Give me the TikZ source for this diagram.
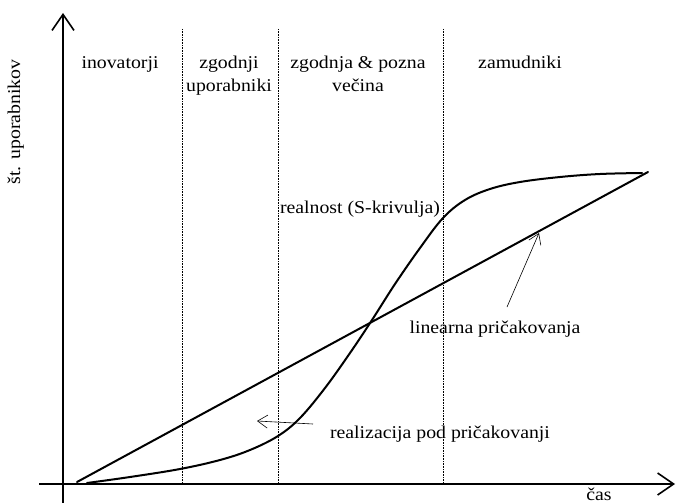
\documentclass[tikz,border=0pt]{standalone}
\usepackage{fontspec}
\setmainfont{Liberation Serif}[FakeStretch=1.1]
\usetikzlibrary{arrows.meta}
\begin{document}
\begin{tikzpicture}[x=1pt,y=-1pt,
  axis/.style={line width=1.6pt,-{Straight Barb[length=16pt,width=22pt,line width=1.6pt]}},
  curve/.style={line width=2pt,line cap=round},
  divider/.style={densely dotted,line width=0.6pt},
  pointer/.style={line width=0.6pt,-{Straight Barb[length=10pt,width=13pt,line width=0.6pt]}},
  lbl/.style={font=\fontsize{18}{22}\selectfont,inner sep=0pt,anchor=base,align=center}]
\useasboundingbox (0,0) rectangle (677,503);
% axes
\coordinate (xs) at (39,484);
\coordinate (xe) at (675,484);
\coordinate (ys) at (63,503);
\coordinate (ye) at (63,13);
\draw[axis] (xs) -- (xe);
\draw[axis] (ys) -- (ye);
% dividers
\foreach \n/\x in {d1/182,d2/278,d3/443}{
  \coordinate (\n t) at (\x,29);
  \coordinate (\n b) at (\x,484);
  \draw[divider] (\n t) -- (\n b);
}
% linear expectation
\coordinate (l0) at (77,482);
\coordinate (l1) at (648,172);
\draw[curve] (l0) -- (l1);
% S curve
\draw[curve] plot[smooth,tension=0.6] coordinates {(87,483) (130,477) (180,469) (220,460) (250,450) (278,436) (300,418) (325,388) (350,353) (372,320) (395,284) (420,248) (443,218) (465,200) (490,189) (520,182) (560,177) (600,174) (642,173)};
% labels
\node[lbl] (inov) at (120,69) {inovatorji};
\node[lbl] (zgod) at (229,91) {zgodnji\\uporabniki};
\node[lbl] (vec) at (358,91) {zgodnja \& pozna\\večina};
\node[lbl] (zam) at (520,69) {zamudniki};
\node[lbl] (real) at (360,213) {realnost (S-krivulja)};
\node[lbl] (lin) at (495,333) {linearna pričakovanja};
\node[lbl] (rpod) at (440,438) {realizacija pod pričakovanji};
\node[lbl] (cas) at (599,500) {čas};
\node[lbl,rotate=90] (st) at (20,122) {št. uporabnikov};
% pointers
\coordinate (p1s) at (507,307);
\coordinate (p1e) at (539,233);
\draw[pointer] (p1s) -- (p1e);
\coordinate (p2s) at (313,424);
\coordinate (p2e) at (257,421);
\draw[pointer] (p2s) -- (p2e);
\end{tikzpicture}
\end{document}
